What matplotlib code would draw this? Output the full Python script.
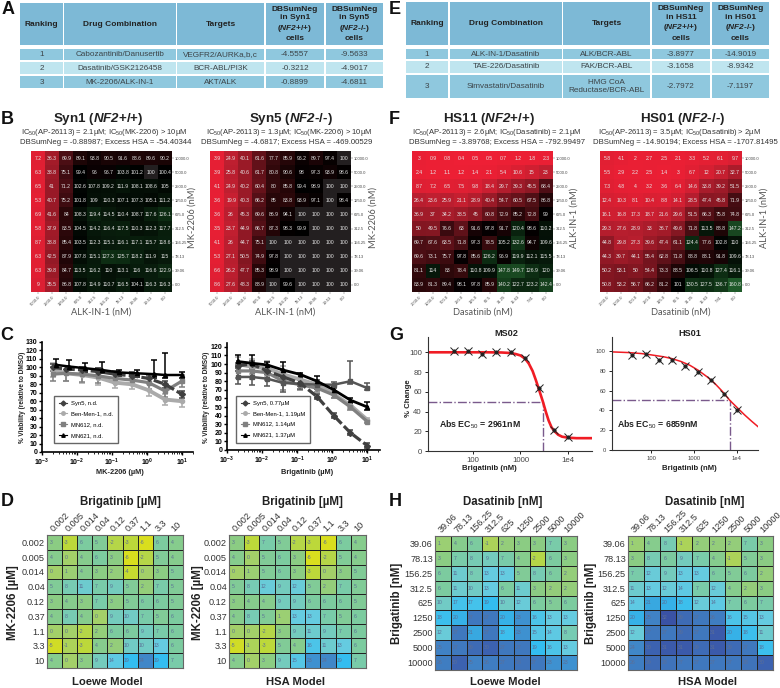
import numpy as np
import matplotlib
matplotlib.use('Agg')
import matplotlib.pyplot as plt
from matplotlib.colors import LinearSegmentedColormap, Normalize
from matplotlib.lines import Line2D
from matplotlib.patches import Rectangle
from matplotlib.ticker import LogLocator, NullFormatter

plt.rcParams['font.family'] = ['Liberation Sans', 'DejaVu Sans']
plt.rcParams['mathtext.fontset'] = 'custom'
plt.rcParams['mathtext.rm'] = 'Liberation Sans'
plt.rcParams['mathtext.it'] = 'Liberation Sans:italic'
plt.rcParams['mathtext.bf'] = 'Liberation Sans:bold'
plt.rcParams['mathtext.bfit'] = 'Liberation Sans:italic:bold'

W, H = 780, 688

# ---------- tables ----------
head_a = ['Ranking', 'Drug Combination', 'Targets',
          'DBSumNeg\nin Syn1\n($\\mathbfit{NF2}$+/+)\ncells',
          'DBSumNeg\nin Syn5\n($\\mathbfit{NF2}$-/-)\ncells']
rows_a = [['1', 'Cabozantinib/Danusertib', 'VEGFR2/AURKa,b,c', '-4.5557', '-9.5633'],
          ['2', 'Dasatinib/GSK2126458', 'BCR-ABL/PI3K', '-0.3212', '-4.9017'],
          ['3', 'MK-2206/ALK-IN-1', 'AKT/ALK', '-0.8899', '-4.6811']]
head_e = ['Ranking', 'Drug Combination', 'Targets',
          'DBSumNeg\nin HS11\n($\\mathbfit{NF2}$+/+)\ncells',
          'DBSumNeg\nin HS01\n($\\mathbfit{NF2}$-/-)\ncells']
rows_e = [['1', 'ALK-IN-1/Dasatinib', 'ALK/BCR-ABL', '-3.8977', '-14.9019'],
          ['2', 'TAE-226/Dasatinib', 'FAK/BCR-ABL', '-3.1658', '-8.9342'],
          ['3', 'Simvastatin/Dasatinib', 'HMG CoA\nReductase/BCR-ABL', '-2.7972', '-7.1197']]

# ---------- viability heatmaps ----------
syn1 = [[7.2, 36.3, 69.9, 89.1, 93.8, 90.5, 91.6, 88.6, 89.6, 90.2],
        [6.3, 38.8, 75.1, 99.4, 96, 96.7, 103.8, 101.2, 100, 100.4],
        [6.5, 41, 71.2, 102.6, 107.8, 109.2, 111.9, 108.1, 108.6, 105],
        [5.3, 40.7, 75.2, 101.8, 109, 110.3, 107.1, 107.3, 105.1, 111.2],
        [6.9, 41.6, 84, 108.3, 119.4, 114.5, 110.4, 108.7, 117.6, 126.1],
        [5.8, 37.9, 83.5, 104.5, 114.2, 116.4, 117.5, 110.3, 112.3, 117.7],
        [8.7, 38.8, 85.4, 103.5, 112.3, 115.1, 116.1, 117.1, 115.7, 118.6],
        [6.3, 42.5, 87.9, 107.8, 115.1, 127.3, 125.7, 118.2, 111.9, 115],
        [6.3, 39.8, 84.7, 113.5, 116.2, 110, 113.1, 116, 116.6, 122.9],
        [9, 35.5, 86.8, 107.8, 114.9, 110.7, 116.5, 104.1, 116.3, 116.3]]
syn5 = [[3.9, 24.9, 40.1, 61.6, 77.7, 85.9, 96.2, 89.7, 97.4, 100],
        [3.9, 25.8, 40.6, 61.7, 80.8, 90.6, 98, 97.3, 93.9, 98.6],
        [4.1, 24.9, 40.2, 60.4, 80, 85.8, 99.4, 98.9, 100, 100],
        [3.6, 19.9, 40.3, 66.2, 85, 83.8, 93.9, 97.1, 100, 98.4],
        [3.6, 26, 45.3, 69.6, 86.9, 94.1, 100, 100, 100, 100],
        [3.5, 23.7, 44.9, 66.7, 87.3, 98.3, 99.9, 100, 100, 100],
        [4.1, 26, 44.7, 75.1, 100, 100, 100, 100, 100, 100],
        [5.3, 27.1, 50.5, 74.9, 97.8, 100, 100, 100, 100, 100],
        [6.6, 26.2, 47.7, 85.3, 98.9, 100, 100, 100, 100, 100],
        [8.6, 27.6, 48.3, 88.9, 100, 99.6, 100, 100, 100, 100]]
hs11 = [[3, 0.9, 0.8, 0.4, 0.5, 0.5, 0.7, 1.2, 1.8, 2.3],
        [2.4, 1.2, 1.1, 1.2, 1.4, 2.1, 5.4, 10.6, 15, 23],
        [8.7, 7.2, 6.5, 7.5, 9.8, 18.4, 29.7, 39.3, 45.5, 68.4],
        [26.4, 23.6, 25.9, 21.1, 28.9, 40.4, 54.7, 60.5, 67.5, 86.8],
        [36.9, 37, 34.2, 38.5, 45, 60.8, 72.9, 85.2, 72.8, 99],
        [50, 49.5, 76.6, 63, 91.6, 97.8, 91.7, 120.4, 98.6, 110.2],
        [69.7, 67.6, 63.5, 71.8, 97.3, 78.5, 105.2, 132.6, 94.7, 109.6],
        [69.6, 73.1, 75.7, 97.8, 85.6, 126.2, 96.9, 119.9, 112.1, 115.5],
        [81.1, 114, 83, 78.4, 110.8, 109.9, 147.8, 149.7, 126.9, 120],
        [83.9, 81.3, 89.4, 98.1, 97.8, 85.9, 140.2, 122.7, 123.2, 142.4]]
hs01 = [[5.8, 4.1, 2, 2.7, 2.5, 2.1, 3.3, 5.2, 6.1, 9.7],
        [5.5, 2.9, 2.2, 2.5, 1.4, 3, 6.7, 12, 20.7, 32.7],
        [7.3, 4.8, 4, 3.2, 3.6, 6.4, 14.6, 33.8, 39.2, 51.5],
        [12.4, 10.3, 8.1, 10.4, 8.8, 14.1, 28.5, 47.4, 45.8, 71.9],
        [16.1, 16.8, 17.3, 18.7, 21.6, 29.6, 51.5, 66.3, 75.8, 74.8],
        [29.3, 27.6, 28.9, 33, 36.7, 49.6, 71.8, 113.5, 88.8, 147.2],
        [44.8, 29.8, 27.3, 39.6, 47.4, 61.1, 124.4, 77.6, 102.8, 110],
        [44.3, 39.7, 44.1, 55.4, 62.8, 71.8, 88.8, 88.1, 91.8, 109.6],
        [50.2, 53.1, 50, 54.4, 73.3, 88.5, 106.5, 110.8, 127.4, 116.1],
        [50.8, 53.2, 56.7, 66.2, 81.2, 101, 130.5, 127.5, 136.7, 160.8]]
right_ticks = ['10000.0', '5000.0', '2500.0', '1250.0', '625.0', '312.5', '156.25', '78.13', '39.06', '0.0']
bottom_alk = ['5000.0', '2500.0', '1250.0', '625.0', '312.5', '156.25', '78.13', '39.06', '19.53', '0.0']
bottom_das = ['2000.0', '1000.0', '500.0', '250.0', '125.0', '62.5', '31.25', '15.63', '7.81', '0.0']

# ---------- dose response (panel C) ----------
conc = [0.002, 0.005, 0.014, 0.04, 0.12, 0.37, 1.1, 3.3, 10]
conc_late = [0.0025, 0.006, 0.017, 0.05, 0.16, 0.5, 1.6, 3.3, 10]
c1_syn5 = [100, 98, 97, 95, 92, 90, 87, 80, 68]
c1_ben = [97, 93, 91, 88, 82, 80, 73, 62, 60]
c1_mn612 = [92, 93, 92, 90, 87, 85, 82, 72, 84]
c1_mn621 = [103, 101, 99, 97, 94, 93, 92, 91, 91]
c1_err = [8, 9, 9, 9, 6, 6, 7, 7, 7]
c1_mn621_up = [7, 8, 6, 9, 3, 4, 17, 26, 3]
c2_syn5 = [98, 100, 92, 85, 78, 62, 40, 20, 5]
c2_ben = [100, 97, 95, 88, 82, 76, 65, 52, 35]
c2_mn612 = [92, 92, 90, 80, 76, 72, 64, 50, 33]
c2_mn621 = [103, 101, 99, 93, 88, 80, 70, 58, 50]
c2_flat = [85, 85, 83, 78, 77, 76, 76, 80, 72]
c2_err = [8, 9, 9, 10, 6, 5, 4, 3, 2]
c2_flat_up = [7, 9, 10, 14, 6, 5, 3, 23, 6]

# ---------- fits (panel G) ----------
ms02_dose = [39, 78, 156, 312, 625, 1250, 2500, 5000, 10000]
ms02_pct = [101, 101, 98, 100.5, 100, 94.5, 64, 21, 14]
ms02_fit_x = [11, 50, 200, 400, 600, 800, 1000, 1250, 1500, 1800, 2100, 2500, 2961, 3400, 3900, 4500, 5200, 6200, 7500, 10000, 15000, 32000]
ms02_fit_y = [100, 100, 100, 99.8, 99.3, 98.2, 96.8, 93.5, 88.5, 81, 72, 61, 50, 40, 31, 24, 20, 16.5, 14.5, 13.5, 13, 13]
hs01_dose = [37, 78, 156, 312, 625, 1250, 2500, 5000, 10000]
hs01_pct = [96, 96.5, 91, 90.5, 85, 79, 71, 57, 40]
hs01_fit_x = [12, 30, 60, 100, 200, 300, 500, 800, 1250, 2000, 3000, 4500, 6859, 10000, 15000, 22000, 31000]
hs01_fit_y = [99, 98.3, 97.3, 96, 94, 92.3, 89.3, 85.5, 80.5, 74, 67.5, 59.5, 50, 43, 35.5, 29, 23.5]

# ---------- synergy heatmaps ----------
d_labels = ['0.002', '0.005', '0.014', '0.04', '0.12', '0.37', '1.1', '3.3', '10']
h_labels = ['39.06', '78.13', '156.25', '312.5', '625', '1250', '2500', '5000', '10000']
d_loewe = [[3, -3, 6, 5, -2, -3, -6, 6, 4],
           [4, 0, 4, 6, 3, -6, -2, 5, 4],
           [0, 1, 4, 3, 2, -4, 0, 3, 5],
           [5, 8, 11, 7, 9, 5, 2, 7, 5],
           [3, 4, 3, 7, 3, 5, 6, 6, 5],
           [4, 8, 4, 0, 9, 10, 7, 5, 6],
           [0, 0, -2, 2, 6, 6, 9, 7, 6],
           [-5, -1, -3, 4, 2, 10, 10, 13, 6],
           [4, 0, 3, 9, 14, 19, 24, 19, 7]]
d_hsa = [[3, -3, 7, 5, -2, -3, -6, 6, 4],
         [4, 0, 5, 6, 3, -6, -2, 5, 4],
         [0, 1, 5, 6, 3, -3, 0, 3, 5],
         [5, 8, 12, 9, 12, 5, 2, 7, 5],
         [3, 4, 4, 9, 9, 6, 6, 6, 5],
         [4, 8, 5, 1, 13, 13, 7, 5, 6],
         [0, 0, -2, 3, 9, 11, 9, 7, 6],
         [-5, -1, -3, 5, 4, 16, 11, 13, 6],
         [4, 0, 3, 9, 15, 23, 24, 19, 7]]
h_loewe = [[1, 4, 6, -1, 2, 3, 3, 7, 3],
           [3, 7, 8, 9, 7, 4, -2, 6, 3],
           [6, 11, 8, 13, 13, 5, 8, 6, 2],
           [6, 11, 10, 13, 6, 11, 3, 2, 2],
           [10, 17, 17, 19, 10, 12, 6, 5, 6],
           [18, 20, 27, 27, 20, 23, 16, 13, 13],
           [12, 27, 21, 27, 18, 23, 15, 14, 8],
           [25, 27, 29, 30, 27, 27, 19, 16, 13],
           [26, 30, 25, 26, 27, 28, 27, 23, 23]]
h_hsa = [[1, 4, 8, -1, 2, 2, 2, 7, 3],
         [3, 8, 6, 9, 7, 4, -1, 5, 3],
         [7, 12, 9, 13, 13, 6, 5, 6, 2],
         [11, 13, 12, 14, 7, 12, 4, 2, 3],
         [14, 21, 20, 18, 12, 14, 7, 6, 7],
         [20, 25, 32, 29, 27, 26, 16, 15, 13],
         [12, 27, 27, 29, 27, 31, 20, 18, 11],
         [24, 30, 31, 31, 29, 31, 29, 27, 18],
         [26, 29, 28, 27, 27, 27, 27, 28, 30]]

fig = plt.figure(figsize=(W / 100, H / 100), dpi=100)


def px_axes(x0, y0, x1, y1, **kw):
    return fig.add_axes([x0 / W, 1 - y1 / H, (x1 - x0) / W, (y1 - y0) / H], **kw)


page = px_axes(0, 0, W, H)
page.set_xlim(0, W)
page.set_ylim(H, 0)
page.axis('off')


def put(x, y, s, size=7, **kw):
    kw.setdefault('ha', 'center')
    kw.setdefault('va', 'center')
    page.text(x, y, s, fontsize=size, **kw)


def draw_table(head, rows, xs, head_y, row_ys):
    shades = ['#8fc8de', '#bfe5ef', '#8fc8de']
    for (x0, x1), label in zip(xs, head):
        page.add_patch(Rectangle((x0, head_y[0]), x1 - x0, head_y[1] - head_y[0], fc='#7db9d6', ec='none'))
        put((x0 + x1) / 2, sum(head_y) / 2, label, 6, fontweight='bold', color='#222222', linespacing=1.25)
    for row, (y0, y1), shade in zip(rows, row_ys, shades):
        for (x0, x1), label in zip(xs, row):
            page.add_patch(Rectangle((x0, y0), x1 - x0, y1 - y0, fc=shade, ec='none'))
            put((x0 + x1) / 2, (y0 + y1) / 2, label, 5.9, color='#3c4448')


draw_table(head_a, rows_a, [(20, 63), (64, 176), (177, 264), (266, 324), (326, 383)],
           (3, 45), [(49, 60), (62, 74), (76, 88)])
draw_table(head_e, rows_e, [(406, 448), (450, 562), (563, 650), (652, 710), (712, 769)],
           (2, 45), [(49, 59), (61, 73), (75, 98)])

for letter, x, y in [('A', 8, 9), ('B', 7, 120), ('C', 7, 335), ('D', 7, 502),
                     ('E', 395, 9), ('F', 394, 120), ('G', 396, 335), ('H', 395, 502)]:
    put(x, y, letter, 13, fontweight='bold', color='#111111')

# 红-黑-绿 viability colours
nodes = [(0, '#ee1f35'), (25, '#bd1f30'), (50, '#841722'), (70, '#4a0e14'), (85, '#280709'),
         (100, '#000000'), (125, '#0c2a12'), (150, '#1a4a22'), (160, '#1f5a2a')]
via_cmap = LinearSegmentedColormap.from_list('via', [(v / 160, c) for v, c in nodes])
via_cmap.set_bad('#231f20')


def viability(vals, box, bottom, title, line1, line2, xlab, ylab, tx, sx, dx, lx, xlx):
    vals = np.array(vals, dtype=float)
    ax = px_axes(*box)
    ax.imshow(np.ma.masked_equal(vals, 100), cmap=via_cmap, vmin=0, vmax=160, aspect='auto')
    for r in range(10):
        for c in range(10):
            ax.text(c, r, f'{vals[r, c]:g}', ha='center', va='center', fontsize=3.7, color='#e6e6e6')
    ax.set_xticks(range(10))
    ax.set_xticklabels(bottom, rotation=45, ha='right', rotation_mode='anchor', fontsize=3, color='#444444')
    ax.yaxis.tick_right()
    ax.set_yticks(range(10))
    ax.set_yticklabels(right_ticks, fontsize=3, color='#444444')
    ax.tick_params(length=1.5, width=0.3, pad=0.8, color='#555555')
    for s in ax.spines.values():
        s.set_visible(False)
    put(tx, 119, title, 9.6, fontweight='bold', color='#222222')
    put(sx, 133, line1, 5.5, color='#333333')
    put(dx, 143, line2, 5.6, color='#333333')
    put(xlx, 312, xlab, 6.7, color='#555555', family='Lato')
    put(lx, 218, ylab, 6.7, color='#555555', family='Lato', rotation=90)


viability(syn1, (31, 151, 172, 292), bottom_alk, 'Syn1 ($\\mathbfit{NF2}$+/+)',
          'IC$_{50}$(AP-26113) = 2.1µM; IC$_{50}$(MK-2206) > 10µM',
          'DBSumNeg = -0.88987; Excess HSA = -54.40344',
          'ALK-IN-1 (nM)', 'MK-2206 (nM)', 98, 104, 106, 192, 101)
viability(syn5, (210, 151, 351, 292), bottom_alk, 'Syn5 ($\\mathbfit{NF2}$-/-)',
          'IC$_{50}$(AP-26113) = 1.3µM; IC$_{50}$(MK-2206) > 10µM',
          'DBSumNeg = -4.6817; Excess HSA = -469.00529',
          'ALK-IN-1 (nM)', 'MK-2206 (nM)', 291, 289, 287, 373, 285)
viability(hs11, (412, 151, 553, 292), bottom_das, 'HS11 ($\\mathbfit{NF2}$+/+)',
          'IC$_{50}$(AP-26113) = 2.6µM; IC$_{50}$(Dasatinib) = 2.1µM',
          'DBSumNeg = -3.89768; Excess HSA = -792.99497',
          'Dasatinib (nM)', 'ALK-IN-1 (nM)', 489, 497, 497, 574, 483)
viability(hs01, (600, 151, 742, 292), bottom_das, 'HS01 ($\\mathbfit{NF2}$-/-)',
          'IC$_{50}$(AP-26113) = 3.5µM; IC$_{50}$(Dasatinib) > 2µM',
          'DBSumNeg = -14.90194; Excess HSA = -1707.81495',
          'Dasatinib (nM)', 'ALK-IN-1 (nM)', 683, 679, 685, 764, 681)


# ---------- C ----------
def dose_axes(box, ymax, ystep):
    ax = px_axes(*box)
    ax.patch.set_alpha(0)
    ax.set_xscale('log')
    ax.set_ylim(0, ymax)
    ax.set_yticks(np.arange(0, ymax + 0.1, ystep))
    ax.spines[['top', 'right']].set_visible(False)
    ax.spines[['left', 'bottom']].set_linewidth(1.2)
    ax.set_xticks([1e-3, 1e-2, 1e-1, 1, 10])
    ax.xaxis.set_minor_locator(LogLocator(base=10, subs=np.arange(2, 10), numticks=20))
    ax.xaxis.set_minor_formatter(NullFormatter())
    ax.tick_params(which='major', length=2.5, width=1, pad=1, labelsize=5)
    ax.tick_params(which='minor', length=1.5, width=0.6)
    for t in ax.get_xticklabels() + ax.get_yticklabels():
        t.set_fontweight('bold')
    return ax


def curve(ax, x, y, err_low, err_up, color, marker, lw=2.3, ms=3, ls='-'):
    ax.errorbar(x, y, yerr=[err_low, err_up], color=color, marker=marker, ms=ms, lw=lw, ls=ls,
                elinewidth=1.1, capsize=2.2, capthick=1.1)


def dose_legend(ax, names, anchor):
    handles = [Line2D([], [], color=c, marker=m, ms=2.5, lw=0.8)
               for c, m in [('#404040', 'D'), ('#aaaaaa', 'o'), ('#808080', 's'), ('#000000', '^')]]
    leg = ax.legend(handles, names, loc='lower left', bbox_to_anchor=anchor, bbox_transform=page.transData,
                    fontsize=4.2, frameon=True, fancybox=False, framealpha=1, edgecolor='#666666',
                    labelspacing=1.0, handlelength=1.4, handletextpad=0.7, borderpad=0.8, borderaxespad=0)
    leg.get_frame().set_linewidth(1)


ax = dose_axes((42, 342, 193, 452), 130, 10)
ax.set_xlim(1e-3, 10 ** 1.31)
curve(ax, conc, c1_ben, c1_err, c1_err, '#aaaaaa', 'o', lw=2.8)
curve(ax, conc, c1_mn612, c1_err, c1_err, '#808080', 's')
curve(ax, conc, c1_syn5, [4] * 9, [4] * 9, '#404040', 'D', ls=(0, (3, 1)))
curve(ax, conc_late, c1_mn621, [4] * 9, c1_mn621_up, '#000000', '^', lw=1.8)
dose_legend(ax, ['Syn5, n.d.', 'Ben-Men-1, n.d.', 'MN612, n.d.', 'MN621, n.d.'], (54, 443))

ax = dose_axes((227, 343, 380, 450), 125, 10)
ax.set_ylim(0, 124.5)
ax.set_yticks(np.arange(0, 121, 10))
ax.set_xlim(1e-3, 10 ** 1.36)
curve(ax, conc, c2_ben, c2_err, c2_err, '#aaaaaa', 'o', lw=2.8)
curve(ax, conc, c2_mn612, c2_err, c2_err, '#808080', 's')
curve(ax, conc, c2_flat, c2_err, c2_flat_up, '#555555', 's', lw=1.8)
curve(ax, conc, c2_syn5, [3] * 9, [3] * 9, '#404040', 'D', ls=(0, (3, 1)))
curve(ax, conc, c2_mn621, [4] * 9, [8, 9, 3, 9, 2, 6, 3, 3, 6], '#000000', '^', lw=2)
dose_legend(ax, ['Syn5, 0.77µM', 'Ben-Men-1, 1.19µM', 'MN612, 1.14µM', 'MN621, 1.37µM'], (236, 443))

put(23, 397, '% Viability (relative to DMSO)', 4.7, fontweight='bold', rotation=90, color='#222222')
put(207, 397, '% Viability (relative to DMSO)', 4.7, fontweight='bold', rotation=90, color='#222222')
put(120, 473, 'MK-2206 (µM)', 5.3, fontweight='bold', color='#222222')
put(307, 473, 'Brigatinib (µM)', 5.3, fontweight='bold', color='#222222')


# ---------- G ----------
def fit_panel(box, xlim, ylim, dose, pct, fit_x, fit_y, ec50, tick_size, lw):
    ax = px_axes(*box)
    ax.patch.set_alpha(0)
    ax.set_xscale('log')
    ax.set_xlim(*xlim)
    ax.set_ylim(*ylim)
    ax.spines[['top', 'right']].set_visible(False)
    ax.spines[['left', 'bottom']].set_color('#333333')
    ax.plot(fit_x, fit_y, color='#f01c24', lw=lw, zorder=2)
    ax.plot([xlim[0], ec50], [50, 50], color='#7a5a8c', lw=1, ls='-.', zorder=1)
    ax.plot([ec50, ec50], [0, 50], color='#7a5a8c', lw=1, ls='-.', zorder=1)
    ax.plot(dose, pct, ls='none', marker='x', ms=6, mew=0.7, color='#222222', zorder=3)
    ax.plot(dose, pct, ls='none', marker='o', ms=2, color='#222222', zorder=3)
    ax.set_xticks([100, 1000, 10000])
    ax.set_xticklabels(['100', '1000', '1e4'])
    ax.xaxis.set_minor_locator(plt.NullLocator())
    ax.set_yticks(range(0, 101, 20))
    ax.tick_params(length=2.5, width=0.6, labelsize=tick_size, labelcolor='#444444', pad=2)
    return ax


fit_panel((428, 337, 592, 451), (11.3, 32000), (0, 115.5), ms02_dose, ms02_pct, ms02_fit_x, ms02_fit_y, 2961, 5.6, 1.9)
fit_panel((612, 337, 758, 450), (12.4, 30900), (0, 114), hs01_dose, hs01_pct, hs01_fit_x, hs01_fit_y, 6859, 4.2, 1.1)
put(506, 333, 'MS02', 6.6, fontweight='bold', color='#222222')
put(690, 333, 'HS01', 6.6, fontweight='bold', color='#222222')
put(489, 468, 'Brigatinib (nM)', 5.6, fontweight='bold', color='#222222')
put(689, 468, 'Brigatinib (nM)', 5.6, fontweight='bold', color='#222222')
put(408, 398, '% Change', 5.6, fontweight='bold', rotation=90, color='#222222')
put(480, 425, 'Abs EC$_{50}$ = 2961nM', 6.3, fontweight='bold', color='#222222')
put(658, 425, 'Abs EC$_{50}$ = 6859nM', 6.3, fontweight='bold', color='#222222')

# ---------- D / H ----------
syn_nodes = [(-6, '#d9de1e'), (-3, '#bcd83a'), (0, '#a3d06a'), (3, '#8bcc84'), (6, '#7ccba0'),
             (9, '#74cbbd'), (13, '#66cbe0'), (19, '#33bdf0'), (24, '#4087c8'), (28, '#3f74bb'), (32, '#3a52a5')]
syn_cmap = LinearSegmentedColormap.from_list('syn', [((v + 6) / 38, c) for v, c in syn_nodes])


def synergy(vals, box, labels, tick_size, top, left, bottom_title, cx, lx, bx):
    ax = px_axes(*box)
    vals = np.array(vals)
    n = len(labels)
    ax.pcolormesh(vals, cmap=syn_cmap, norm=Normalize(-6, 32), edgecolors='#222222', linewidth=0.5)
    ax.set_ylim(n, 0)
    for r in range(n):
        for c in range(n):
            ax.text(c + 0.28, r + 0.5, str(vals[r, c]), ha='center', va='center', fontsize=3.7, color='#5c6f96')
    ax.xaxis.tick_top()
    ax.set_xticks(np.arange(n) + 0.5)
    ax.set_xticklabels(labels, rotation=45, ha='left', rotation_mode='anchor', fontsize=tick_size, color='#333333')
    ax.set_yticks(np.arange(n) + 0.5)
    ax.set_yticklabels(labels, fontsize=tick_size, color='#333333')
    ax.tick_params(length=0, pad=1.5)
    for s in ax.spines.values():
        s.set_color('#666666')
        s.set_linewidth(0.8)
    put(cx, 502, top, 8.3, fontweight='bold', color='#222222')
    put(lx, 603, left, 8.3, fontweight='bold', rotation=90, color='#222222')
    put(bx, 682, bottom_title, 8.1, fontweight='bold', color='#222222')


synergy(d_loewe, (47, 535, 183, 668), d_labels, 6.6, 'Brigatinib [µM]', 'MK-2206 [µM]', 'Loewe Model', 107 + 13, 13, 107)
synergy(d_hsa, (229, 535, 366, 668), d_labels, 6.6, 'Brigatinib [µM]', 'MK-2206 [µM]', 'HSA Model', 302, 198, 295)
synergy(h_loewe, (435, 536, 577, 670), h_labels, 6.6, 'Dasatinib [nM]', 'Brigatinib [nM]', 'Loewe Model', 503, 397, 505)
synergy(h_hsa, (628, 536, 773, 670), h_labels, 6.6, 'Dasatinib [nM]', 'Brigatinib [nM]', 'HSA Model', 705, 591, 708)

fig.savefig('out.png', dpi=100)
